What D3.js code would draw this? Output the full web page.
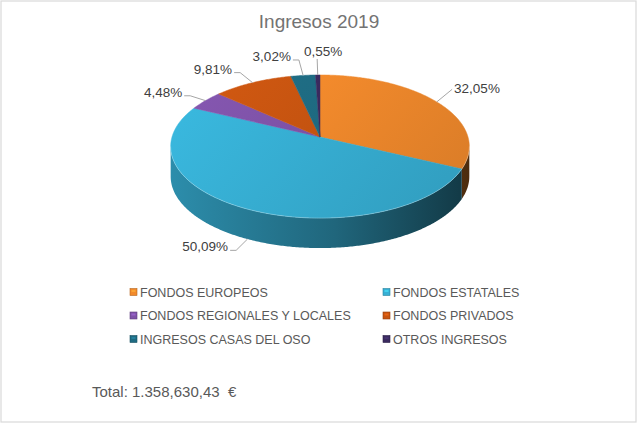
<!DOCTYPE html>
<html><head><meta charset="utf-8">
<script src="https://cdn.jsdelivr.net/npm/d3@7/dist/d3.min.js"></script>
<style>body{margin:0;background:#fff}svg{display:block}text{font-family:"Liberation Sans",Arial,sans-serif;white-space:pre}</style>
</head><body>
<svg id="c" width="638" height="424"></svg>
<script>
const title = "Ingresos 2019";
const categories = ["FONDOS EUROPEOS","FONDOS ESTATALES","FONDOS REGIONALES Y LOCALES","FONDOS PRIVADOS","INGRESOS CASAS DEL OSO","OTROS INGRESOS"];
const shares = [32.05, 50.09, 4.48, 9.81, 3.02, 0.55];
const colors = ["#F28A2C","#37AFD4","#7E52A8","#C75410","#1F6B82","#3A2A5E"];
const totalLabel = "Total: 1.358,630,43  €";

const svg = d3.select("#c");
const W = 638, H = 424;
svg.append("rect").attr("x",1).attr("y",1).attr("width",W-3).attr("height",H-3)
  .attr("fill","#fff").attr("stroke","#d9d9d9").attr("stroke-width",1.2);

svg.append("text").attr("x",319).attr("y",28).attr("text-anchor","middle")
  .attr("font-size",19).attr("fill","#737373").text(title);

// 3D pie geometry (perspective projection of a tilted disc)
const cx = 320, cy = 137, A = 148, B = 70.3, P = 0.133, D = 30;
function proj(theta, r = 1, dz = 0) {
  const s = Math.sin(theta), c = Math.cos(theta);
  const w = 1 / (1 - P * r * s);
  return [cx + A * r * c * w, cy + B * r * s * w + dz];
}
const pie = d3.pie().sort(null).value(d => d)(shares);
const toTheta = a => a - Math.PI / 2;
const fmt = v => d3.format(".2f")(v).replace(".", ",") + "%";

const defs = svg.append("defs");
colors.forEach((col, i) => {
  const c = d3.color(col);
  const gs = defs.append("linearGradient").attr("id","side"+i).attr("gradientUnits","userSpaceOnUse")
    .attr("x1",cx-A).attr("x2",cx+A).attr("y1",0).attr("y2",0);
  gs.append("stop").attr("offset",0).attr("stop-color",c.darker(0.6));
  gs.append("stop").attr("offset",0.55).attr("stop-color",c.darker(1.5));
  gs.append("stop").attr("offset",1).attr("stop-color",c.darker(3.2));
  const gt = defs.append("linearGradient").attr("id","top"+i).attr("gradientUnits","userSpaceOnUse")
    .attr("x1",cx-A*0.6).attr("y1",cy-B).attr("x2",cx+A*0.6).attr("y2",cy+B*1.2);
  gt.append("stop").attr("offset",0).attr("stop-color",c.brighter(0.12));
  gt.append("stop").attr("offset",1).attr("stop-color",c.darker(0.25));
});

const line = d3.line();
function arcPts(t0, t1, dz) {
  const n = Math.max(2, Math.ceil(Math.abs(t1 - t0) / 0.01));
  return d3.range(n + 1).map(k => proj(t0 + (t1 - t0) * k / n, 1, dz));
}
const tMin = Math.asin(P), tMax = Math.PI - Math.asin(P);

// side walls
const sideG = svg.append("g");
pie.forEach((d, i) => {
  const t0 = Math.max(toTheta(d.startAngle), tMin), t1 = Math.min(toTheta(d.endAngle), tMax);
  if (t1 <= t0) return;
  const pts = arcPts(t0, t1, 0).concat(arcPts(t1, t0, D));
  sideG.append("path").attr("d", line(pts) + "Z").attr("fill", "url(#side"+i+")");
});
// top faces
const topG = svg.append("g");
pie.forEach((d, i) => {
  const pts = [[cx, cy]].concat(arcPts(toTheta(d.startAngle), toTheta(d.endAngle), 0));
  topG.append("path").attr("d", line(pts) + "Z").attr("fill", "url(#top"+i+")")
    .attr("stroke", "url(#top"+i+")").attr("stroke-width", 0.5);
});
// light rim on front edge
svg.append("path").attr("d", line(arcPts(tMin, tMax, 0)))
  .attr("fill","none").attr("stroke","#fff").attr("stroke-opacity",0.25).attr("stroke-width",1);

// data labels with leader lines
const labG = svg.append("g");
pie.forEach((d, i) => {
  const tm = toTheta((d.startAngle + d.endAngle) / 2);
  const s = Math.sin(tm), c = Math.cos(tm);
  const front = s > 0 && tm > tMin && tm < tMax;
  const a = proj(tm, 1, front ? D : 0);
  let vx = c * A, vy = s * B; const len = Math.hypot(vx, vy); vx /= len; vy /= len;
  // leaders on the upper right rise more steeply (best-fit placement)
  if (c > 0 && s < 0) vy -= 0.5;
  const L = 16;
  const e = [a[0] + vx * L, a[1] + vy * L];
  const pts = [a, e];
  const t = labG.append("text").attr("font-size",13.5).attr("fill","#404040").text(fmt(d.data));
  if (Math.abs(c) < 0.08) {
    t.attr("x", e[0] + 6).attr("y", e[1] - 3).attr("text-anchor","middle");
  } else if (c > 0) {
    t.attr("x", e[0] + 2).attr("y", e[1] + 4).attr("text-anchor","start");
  } else {
    pts.push([e[0] - 6, e[1]]);
    t.attr("x", e[0] - 8).attr("y", e[1] + 1).attr("text-anchor","end");
  }
  labG.append("path").attr("d", line(pts)).attr("fill","none").attr("stroke","#a6a6a6").attr("stroke-width",1);
});

// legend
const colX = [130, 383], rowY0 = 292, rowH = 23.5;
const leg = svg.append("g");
categories.forEach((name, i) => {
  const x = colX[i % 2], y = rowY0 + Math.floor(i / 2) * rowH;
  const c = d3.color(colors[i]);
  leg.append("rect").attr("x", x).attr("y", y - 3.5).attr("width", 7).attr("height", 7)
    .attr("fill", colors[i]).attr("stroke", c.darker(0.8)).attr("stroke-width", 0.6);
  leg.append("rect").attr("x", x + 1.5).attr("y", y - 2).attr("width", 4).attr("height", 2)
    .attr("fill", c.brighter(0.8)).attr("opacity", 0.6);
  leg.append("text").attr("x", x + 10).attr("y", y + 4.5).attr("font-size", 12.5)
    .attr("fill", "#595959").text(name);
});

svg.append("text").attr("x", 92).attr("y", 397).attr("font-size", 15)
  .attr("fill", "#595959").text(totalLabel);
</script>
</body></html>
